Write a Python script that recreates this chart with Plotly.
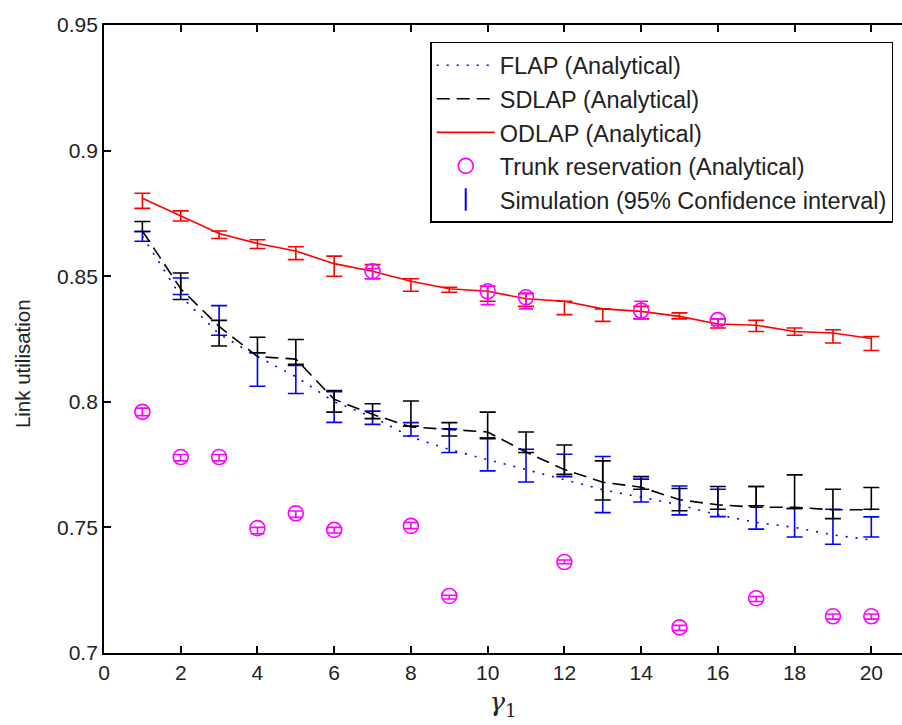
import plotly.graph_objects as go

x = list(range(1, 21))

flap = [0.866, 0.842, 0.827, 0.818, 0.810, 0.800, 0.794, 0.786, 0.781, 0.777,
        0.773, 0.769, 0.765, 0.762, 0.759, 0.755, 0.752, 0.750, 0.747, 0.745]
sdlap = [0.868, 0.845, 0.830, 0.818, 0.817, 0.801, 0.795, 0.790, 0.789, 0.788,
         0.780, 0.773, 0.768, 0.766, 0.761, 0.759, 0.758, 0.758, 0.757, 0.757]
odlap = [0.881, 0.874, 0.867, 0.863, 0.860, 0.855, 0.852, 0.848, 0.845, 0.844,
         0.841, 0.840, 0.837, 0.836, 0.834, 0.831, 0.8305, 0.828, 0.8274, 0.8252]

odlap_sim_lo = [0.877, 0.872, 0.865, 0.861, 0.8566, 0.850, 0.849, 0.844, 0.8436, 0.840,
                0.838, 0.8347, 0.832, 0.833, 0.833, 0.8294, 0.828, 0.8265, 0.8234, 0.8204]
odlap_sim_hi = [0.883, 0.876, 0.868, 0.8645, 0.8617, 0.858, 0.8546, 0.849, 0.8456, 0.846,
                0.843, 0.840, 0.837, 0.838, 0.8354, 0.833, 0.8324, 0.8294, 0.8287, 0.826]

sdlap_sim_lo = [0.8678, 0.8407, 0.8222, 0.8195, 0.8149, 0.7959, 0.7933, 0.7903, 0.7864, 0.7853,
                0.7798, 0.7711, 0.7609, 0.7652, 0.7566, 0.7572, 0.7586, 0.7575, 0.7535, 0.7572]
sdlap_sim_hi = [0.8718, 0.8513, 0.8324, 0.8257, 0.8248, 0.8045, 0.7992, 0.8003, 0.7917, 0.7959,
                0.7880, 0.7828, 0.7765, 0.7702, 0.7655, 0.7663, 0.7663, 0.7709, 0.7652, 0.7659]

flap_sim_lo = [0.8639, 0.8427, 0.8265, 0.8062, 0.8033, 0.7918, 0.7910, 0.7864, 0.7798, 0.7725,
               0.7681, 0.7702, 0.7559, 0.7601, 0.7550, 0.7543, 0.7493, 0.7462, 0.7433, 0.7462]
flap_sim_hi = [0.8678, 0.8493, 0.8383, 0.8195, 0.8145, 0.8040, 0.7963, 0.7917, 0.7893, 0.7857,
               0.7811, 0.7791, 0.7782, 0.7692, 0.7665, 0.7652, 0.7663, 0.7575, 0.7572, 0.7542]

trunk_x = [1, 2, 3, 4, 5, 6, 7, 8, 9, 10, 11, 12, 14, 15, 16, 17, 19, 20]
trunk_y = [0.796, 0.778, 0.778, 0.7497, 0.7556, 0.749, 0.852, 0.7506, 0.7227, 0.844,
           0.8416, 0.7362, 0.8363, 0.7102, 0.8325, 0.7218, 0.7146, 0.7146]
trunk_lo = [0.7945, 0.7765, 0.7765, 0.7475, 0.754, 0.7478, 0.849, 0.7495, 0.7215, 0.8387,
            0.837, 0.7355, 0.833, 0.709, 0.8305, 0.7205, 0.7135, 0.7135]
trunk_hi = [0.7975, 0.779, 0.779, 0.750, 0.7565, 0.750, 0.853, 0.752, 0.723, 0.846,
            0.8433, 0.737, 0.840, 0.711, 0.833, 0.7225, 0.7155, 0.7155]

x_ticks = [0, 2, 4, 6, 8, 10, 12, 14, 16, 18, 20]
y_ticks = [0.7, 0.75, 0.8, 0.85, 0.9, 0.95]
y_ticktext = ["0.7", "0.75", "0.8", "0.85", "0.9", "0.95"]

FONT = "Liberation Sans, Arial, Helvetica, sans-serif"


def band(xs, lo, hi, color, name):
    mid = [(a + b) / 2 for a, b in zip(lo, hi)]
    up = [b - m for b, m in zip(hi, mid)]
    dn = [m - a for a, m in zip(lo, mid)]
    return go.Scatter(
        x=xs, y=mid, mode="markers", name=name, showlegend=False,
        marker=dict(size=0.1, color=color, opacity=0),
        error_y=dict(type="data", symmetric=False, array=up, arrayminus=dn,
                     color=color, thickness=1.6, width=8),
        hoverinfo="skip",
    )


fig = go.Figure()

fig.add_trace(band(x, flap_sim_lo, flap_sim_hi, "#0000ff", "flap_sim"))
fig.add_trace(band(x, sdlap_sim_lo, sdlap_sim_hi, "#000000", "sdlap_sim"))
fig.add_trace(band(x, odlap_sim_lo, odlap_sim_hi, "#ff0000", "odlap_sim"))

fig.add_trace(go.Scatter(x=x, y=flap, mode="lines", name="FLAP (Analytical)",
                         line=dict(color="#0000ff", width=1.6, dash="2px,8px")))
fig.add_trace(go.Scatter(x=x, y=sdlap, mode="lines", name="SDLAP (Analytical)",
                         line=dict(color="#000000", width=1.6, dash="13px,7px")))
fig.add_trace(go.Scatter(x=x, y=odlap, mode="lines", name="ODLAP (Analytical)",
                         line=dict(color="#ff0000", width=1.6)))

t_mid = trunk_y
fig.add_trace(go.Scatter(
    x=trunk_x, y=t_mid, mode="markers", name="Trunk reservation (Analytical)",
    marker=dict(symbol="circle-open", size=15, color="#ff00ff", line=dict(width=1.6)),
    error_y=dict(type="data", symmetric=False,
                 array=[h - m for h, m in zip(trunk_hi, t_mid)],
                 arrayminus=[m - l for l, m in zip(trunk_lo, t_mid)],
                 color="#ff00ff", thickness=1.6, width=7),
))

fig.add_trace(go.Scatter(
    x=[None], y=[None], mode="markers", name="Simulation (95% Confidence interval)",
    marker=dict(symbol="line-ns-open", size=18, color="#0000ff",
                line=dict(width=2, color="#0000ff")),
))

fig.update_layout(
    width=902, height=725,
    margin=dict(l=104, r=0, t=25, b=72),
    paper_bgcolor="white", plot_bgcolor="white",
    font=dict(family=FONT, size=21, color="#222222"),
    showlegend=True,
    legend=dict(
        x=0.989, y=0.973, xanchor="right", yanchor="top",
        bgcolor="white", bordercolor="black", borderwidth=1.5,
        font=dict(family=FONT, size=23.5, color="#222222"),
        itemwidth=58, tracegroupgap=0,
    ),
    xaxis=dict(
        range=[0, 20.8], tickvals=x_ticks, ticks="inside", ticklen=7, tickwidth=1.5,
        tickcolor="black", showline=True, linecolor="black", linewidth=1.8,
        mirror="ticks", showgrid=False, zeroline=False,
        tickfont=dict(family=FONT, size=21, color="#222222"),
        title=dict(text="<i>γ</i><sub>1</sub>", font=dict(family="DejaVu Serif, serif", size=26, color="#222222"),
                   standoff=10),
    ),
    yaxis=dict(
        range=[0.7, 0.95], tickvals=y_ticks, ticktext=y_ticktext, ticks="inside",
        ticklen=7, tickwidth=1.5, tickcolor="black", showline=True, linecolor="black",
        linewidth=1.8, mirror=False, showgrid=False, zeroline=False,
        tickfont=dict(family=FONT, size=21, color="#222222"),
    ),
    annotations=[dict(
        text="Link utilisation", textangle=-90, showarrow=False,
        xref="paper", yref="paper", x=-82 / 798, y=0.46,
        xanchor="center", yanchor="middle",
        font=dict(family=FONT, size=20.5, color="#222222"),
    )],
)

fig.write_html("out.html")
